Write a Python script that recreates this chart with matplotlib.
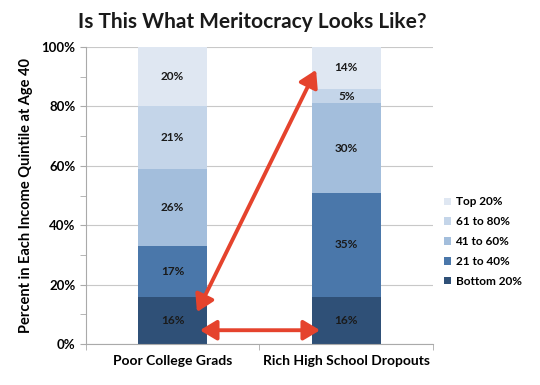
import matplotlib
matplotlib.use("Agg")
import matplotlib.pyplot as plt
from matplotlib.ticker import MultipleLocator, FuncFormatter

categories = ["Poor College Grads", "Rich High School Dropouts"]
quintiles = ["Bottom 20%", "21 to 40%", "41 to 60%", "61 to 80%", "Top 20%"]
poor_grads = [16, 17, 26, 21, 20]
rich_dropouts = [16, 35, 30, 5, 14]
colors = ["#2f5077", "#4a77aa", "#a3bedc", "#c4d5e9", "#dfe7f2"]

plt.rcParams['font.family'] = ['Lato', 'DejaVu Sans']
fig = plt.figure(figsize=(5.4, 3.85), dpi=100)
ax = fig.add_axes([0.159, 0.106, 0.643, 0.772])

x = [0, 1]
bottoms = [0, 0]
handles = []
for i, q in enumerate(quintiles):
    vals = [poor_grads[i], rich_dropouts[i]]
    b = ax.bar(x, vals, width=0.4, bottom=bottoms, color=colors[i], label=q, zorder=2)
    handles.append(b)
    for xi, v, bt in zip(x, vals, bottoms):
        ax.text(xi, bt + v / 2, f"{v}%", ha="center", va="center",
                fontsize=8.5, fontweight="bold", color="#1a1a1a", zorder=3)
    bottoms = [bottoms[0] + vals[0], bottoms[1] + vals[1]]

ax.set_xlim(-0.5, 1.5)
ax.set_ylim(0, 100)
ax.yaxis.set_major_locator(MultipleLocator(20))
ax.yaxis.set_minor_locator(MultipleLocator(10))
ax.yaxis.set_major_formatter(FuncFormatter(lambda v, p: f"{int(v)}%"))
ax.grid(axis="y", which="major", color="#c8c8c8", linewidth=0.8, zorder=0)
ax.set_xticks(x)
ax.set_xticklabels(categories, fontsize=10, fontweight="bold")
ax.set_xticks([-0.5, 0.5, 1.5], minor=True)
ax.tick_params(axis="x", which="major", length=0, pad=8)
ax.tick_params(axis="x", which="minor", length=4, color="#aaaaaa")
ax.tick_params(axis="y", which="both", length=4, color="#aaaaaa", labelsize=9.5)
for lab in ax.get_yticklabels():
    lab.set_fontweight("bold")
for s in ["top", "right"]:
    ax.spines[s].set_visible(False)
for s in ["left", "bottom"]:
    ax.spines[s].set_color("#aaaaaa")

ax.set_ylabel("Percent in Each Income Quintile at Age 40", fontsize=10.5, fontweight="bold",
              labelpad=6)
fig.text(0.468, 0.943, "Is This What Meritocracy Looks Like?", ha="center", va="center",
         fontsize=15, fontweight="bold", color="#1a1a1a")

leg = ax.legend(handles[::-1], quintiles[::-1], loc="center left", bbox_to_anchor=(1.0, 0.345),
                frameon=False, fontsize=8.5, handlelength=0.6, handleheight=0.6,
                handletextpad=0.4, labelspacing=0.75)
for t in leg.get_texts():
    t.set_fontweight("bold")

red = "#e5432d"
ax.annotate("", xy=(0.14, 10.8), xytext=(0.826, 92.3),
            arrowprops=dict(arrowstyle="<|-|>,head_length=1.0,head_width=0.6", color=red, lw=2.8,
                            shrinkA=0, shrinkB=0), zorder=4)
ax.annotate("", xy=(0.157, 4.7), xytext=(0.849, 4.7),
            arrowprops=dict(arrowstyle="<|-|>,head_length=1.0,head_width=0.6", color=red, lw=2.8,
                            shrinkA=0, shrinkB=0), zorder=4)

fig.savefig("out.png", dpi=100)
